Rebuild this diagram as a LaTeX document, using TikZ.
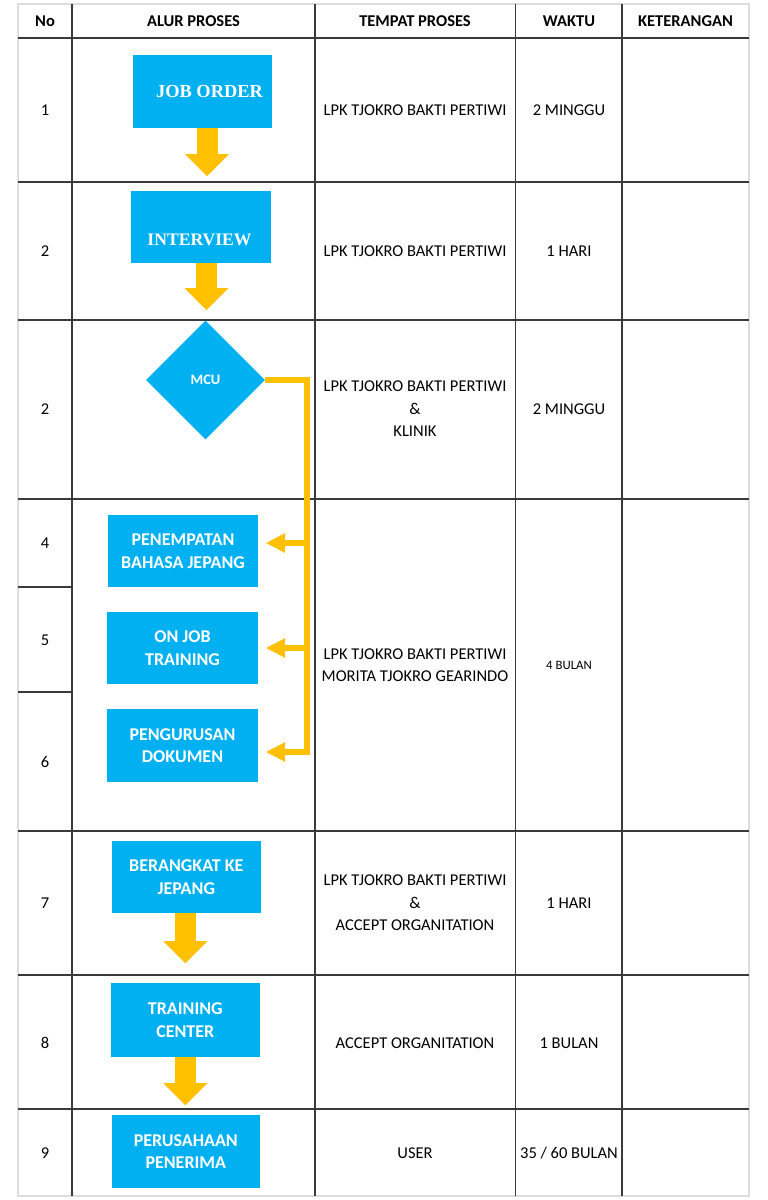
\documentclass[tikz,border=0pt]{standalone}
\usepackage{fontspec}
\setmainfont{Carlito}
\newfontfamily\tnrfont{Liberation Serif}
\usetikzlibrary{arrows.meta,shapes.geometric,backgrounds}

\definecolor{boxblue}{HTML}{00B0F0}
\definecolor{arrowgold}{HTML}{FFC000}
\definecolor{gridgray}{HTML}{3A3A3A}
\definecolor{bordergray}{HTML}{DDDDDD}

\tikzset{
  procbox/.style={fill=boxblue, text=white, align=center, inner sep=0pt,
    font=\fontsize{18}{22.5}\selectfont\bfseries},
  flowarrow/.style={draw=arrowgold, line width=21pt,
    -{Triangle[length=22pt,width=44pt,line width=0pt]}},
  bracket/.style={draw=arrowgold, line width=6pt},
  bracketarrow/.style={bracket, shorten >=8pt,
    -{Triangle[length=19pt,width=20pt,line width=0pt]}},
  cell/.style={align=center, inner sep=0pt, font=\fontsize{16.5}{22.5}\selectfont},
  headcell/.style={cell, font=\fontsize{16.5}{22.5}\selectfont\bfseries},
  gridline/.style={draw=gridgray, line width=1.2pt},
  frameline/.style={draw=bordergray, line width=1.2pt}
}

\begin{document}
\begin{tikzpicture}[x=1pt,y=-1pt]
    \useasboundingbox[fill=white] (0,0) rectangle (768,1200);
    % table
    \draw[frameline] (18,4) rectangle (749,1196);
    \foreach \y in {38,182,320,499,831,975,1109}
        \draw[gridline] (18,\y) -- (749,\y);
    \foreach \x in {72,315,515.5,622}
        \draw[gridline] (\x,4) -- (\x,1196);
    \draw[gridline] (18,587) -- (72,587);
    \draw[gridline] (18,692) -- (72,692);

    % header
    \node[headcell] (hno) at (45,21) {No};
    \node[headcell] (halur) at (193.5,21) {ALUR PROSES};
    \node[headcell] (htempat) at (415,21) {TEMPAT PROSES};
    \node[headcell] (hwaktu) at (569,21) {WAKTU};
    \node[headcell] (hket) at (685.5,21) {KETERANGAN};

    % row numbers
    \foreach \n/\y [count=\i] in {1/110,2/251,2/409,4/543,5/640,6/762,7/903,8/1043,9/1153}
        \node[cell] (no\i) at (45,\y) {\n};

    % tempat proses
    \node[cell] (t1) at (415,110) {LPK TJOKRO BAKTI PERTIWI};
    \node[cell] (t2) at (415,251) {LPK TJOKRO BAKTI PERTIWI};
    \node[cell] (t3) at (415,409) {LPK TJOKRO BAKTI PERTIWI\\\&\\KLINIK};
    \node[cell] (t4) at (415,665) {LPK TJOKRO BAKTI PERTIWI\\MORITA TJOKRO GEARINDO};
    \node[cell] (t7) at (415,903) {LPK TJOKRO BAKTI PERTIWI\\\&\\ACCEPT ORGANITATION};
    \node[cell] (t8) at (415,1043) {ACCEPT ORGANITATION};
    \node[cell] (t9) at (415,1153) {USER};

    % waktu
    \node[cell] (w1) at (569,110) {2 MINGGU};
    \node[cell] (w2) at (569,251) {1 HARI};
    \node[cell] (w3) at (569,409) {2 MINGGU};
    \node[cell, font=\fontsize{12.8}{15}\selectfont] (w4) at (569,665) {4 BULAN};
    \node[cell] (w7) at (569,903) {1 HARI};
    \node[cell] (w8) at (569,1043) {1 BULAN};
    \node[cell] (w9) at (569,1153) {35 / 60 BULAN};

    % alur proses
    \node[procbox, minimum width=139pt, minimum height=73pt, font=\fontsize{18.4}{22}\selectfont\tnrfont\bfseries]
        (job) at (202.5,91.5) {\hspace*{14pt}JOB ORDER};
    \node[procbox, minimum width=140pt, minimum height=72pt] (intv) at (201,227) {};
    \node[cell, text=white, font=\fontsize{17.6}{22}\selectfont\tnrfont\bfseries]
        (intvtext) at (199.5,240) {INTERVIEW};
    \node[diamond, aspect=1, fill=boxblue, text=white, inner sep=0pt,
        minimum width=119pt, minimum height=119pt, font=\fontsize{14.5}{16}\selectfont\bfseries]
        (mcu) at (205.5,380) {MCU};
    \node[procbox, minimum width=150pt, minimum height=72pt] (pen) at (183,551) {PENEMPATAN\\BAHASA JEPANG};
    \node[procbox, minimum width=151pt, minimum height=72pt] (ojt) at (182.5,648) {ON JOB\\TRAINING};
    \node[procbox, minimum width=151pt, minimum height=73pt] (dok) at (182.5,745.5) {PENGURUSAN\\DOKUMEN};
    \node[procbox, minimum width=149pt, minimum height=72pt] (ber) at (186.3,877) {BERANGKAT KE\\JEPANG};
    \node[procbox, minimum width=149pt, minimum height=74pt] (tc) at (185.3,1020) {TRAINING\\CENTER};
    \node[procbox, minimum width=148pt, minimum height=73pt] (pp) at (185.8,1151.5) {PERUSAHAAN\\PENERIMA};

    % block arrows
    \draw[flowarrow] ([xshift=4.5pt]job.south) -- ++(0,48);
    \draw[flowarrow] ([xshift=5.5pt]intv.south) -- ++(0,47);
    \begin{scope}[on background layer]
        \draw[flowarrow] (mcu.center) -- ++(0,108);
    \end{scope}
    \draw[flowarrow] ([xshift=-1pt]ber.south) -- ++(0,50);
    \draw[flowarrow] (tc.south) -- ++(0,48);

    % yellow bracket from MCU
    \coordinate (bus1) at (307,543);
    \coordinate (bus2) at (307,648);
    \coordinate (bus3) at (307,752);
    \draw[bracketarrow] (mcu.east) -| (bus3) -- (dok.east |- bus3);
    \draw[bracketarrow] (bus1) -- (pen.east |- bus1);
    \draw[bracketarrow] (bus2) -- (ojt.east |- bus2);
\end{tikzpicture}
\end{document}
